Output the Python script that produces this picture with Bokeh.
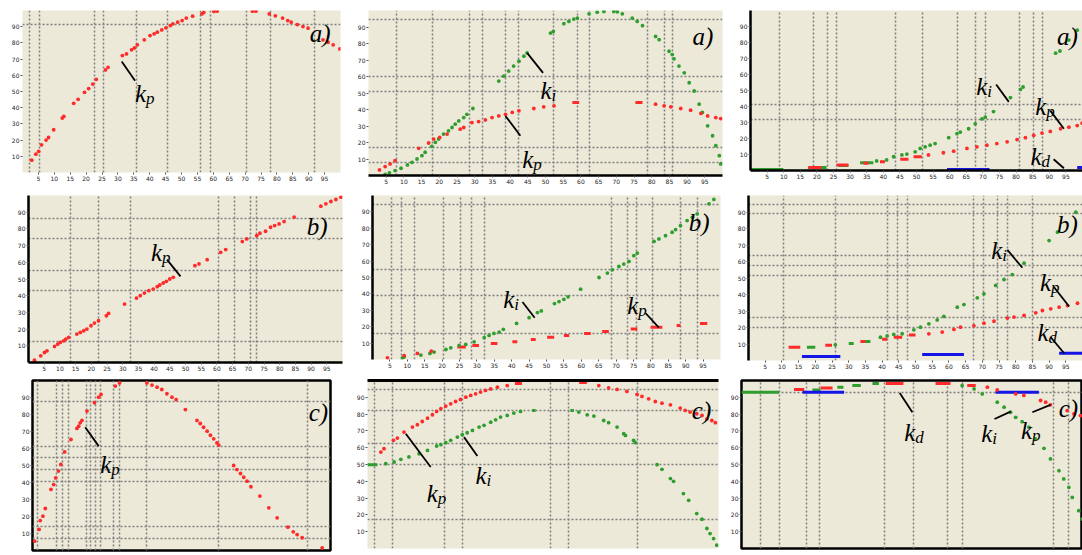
from bokeh.plotting import figure
from bokeh.layouts import row, column
from bokeh.models import FixedTicker, LinearAxis, Range1d
from bokeh.core.properties import value
from bokeh.embed import file_html
from bokeh.resources import INLINE

BG = "#ece9d8"
RED = "#ff2a2a"
GREEN = "#2f9e2f"
BLUE = "#1414e6"
SERIF = "Liberation Serif"

X_AXIS_TICKS = [5, 10, 15, 20, 25, 30, 35, 40, 45, 50, 55, 60, 65, 70, 75, 80, 85, 90, 95]
Y_AXIS_TICKS = [10, 20, 30, 40, 50, 60, 70, 80, 90]

# ---------------- panel 1 (row 1, col 1) ----------------
P1_GRID_X = [2.1, 5.5, 22.5, 25.6, 35.7, 45.7, 55.9, 59.1, 70.4, 77.9, 91.7]
P1_GRID_Y = [91.3]
P1_KP_X = [2.9, 4.2, 5.1, 6.0, 7.4, 8.2, 9.8, 12.5, 13.0, 16.1, 17.5, 19.5, 20.8, 22.1, 23.2,
           26.1, 26.9, 31.4, 32.7, 34.3, 35.2, 36.1, 38.3, 40.1, 41.4, 42.4, 43.8, 45.1, 46.5, 47.3,
           48.8, 50.2, 51.5, 53.5, 56.4, 57.0, 60.2, 61.2, 72.3, 73.4, 77.6, 79.5, 81.8, 83.4, 84.5,
           86.4, 88.2, 89.8, 94.5, 96.1, 97.7, 99.8]
P1_KP_Y = [7.6, 11.3, 13.0, 17.1, 20.0, 21.6, 26.4, 33.6, 34.6, 42.7, 45.2, 49.5, 51.8, 54.6, 57.5,
           63.3, 64.9, 72.2, 73.2, 75.7, 76.9, 78.8, 81.9, 84.5, 85.6, 86.6, 88.0, 89.3, 90.7, 91.8,
           92.8, 93.8, 95.3, 96.5, 97.9, 98.8, 99.4, 99.6, 99.6, 99.6, 97.9, 96.7, 95.3, 93.8, 92.8,
           91.3, 90.1, 89.1, 81.9, 80.4, 78.8, 76.3]

# ---------------- panel 2 (row 1, col 2) ----------------
P2_GRID_X = [8.0, 18.2, 28.6, 32.1, 38.7, 42.5, 52.4, 59.0, 62.5, 78.8, 83.5, 85.8]
P2_GRID_Y = [94.4, 59.8, 51.2, 16.7, 8.0]
P2_KI_X = [4.7, 5.9, 7.5, 9.2, 11.0, 12.3, 13.7, 15.1, 16.0, 17.9, 18.9, 19.8, 21.2, 22.6, 23.6,
           24.5, 25.5, 26.9, 27.8, 29.5, 36.8, 38.2, 39.6, 41.0, 42.5, 43.9, 44.8, 51.4, 52.2, 55.2,
           56.6, 58.0, 59.0, 62.3, 64.6, 66.5, 69.3, 70.3, 71.7, 74.5, 75.9, 77.4, 81.1, 82.1, 84.9,
           85.8, 86.3, 87.7, 89.2, 90.6, 92.0, 93.4, 94.3, 95.8, 97.2, 98.1, 99.1, 99.5]
P2_KI_Y = [0.6, 1.6, 3.0, 4.4, 6.4, 8.0, 10.0, 12.0, 14.1, 17.7, 20.1, 22.1, 25.1, 27.1, 29.1,
           31.1, 33.1, 35.1, 37.1, 40.6, 57.2, 60.2, 63.3, 66.3, 69.3, 72.3, 74.3, 86.3, 87.3, 92.0,
           93.4, 94.8, 95.4, 98.0, 99.0, 99.4, 99.4, 99.2, 98.0, 95.4, 93.4, 90.8, 84.3, 82.3, 75.3,
           73.3, 70.7, 66.3, 62.2, 56.2, 51.2, 43.2, 38.2, 30.1, 24.1, 18.1, 12.0, 7.0]
P2_KP_X = [3.1, 4.7, 6.1, 7.5, 14.2, 17.0, 18.4, 20.1, 22.2, 25.9, 26.9, 29.2, 31.1, 33.0, 34.9,
           36.8, 38.7, 40.6, 42.5, 46.7, 49.5, 52.4, 81.1, 83.5, 85.4, 88.2, 91.0, 93.9, 95.8, 98.1, 99.5]
P2_KP_Y = [3.4, 5.4, 7.0, 9.0, 16.5, 19.7, 22.1, 23.1, 25.1, 28.1, 29.1, 32.1, 32.7, 33.7, 35.1,
           36.1, 37.1, 38.2, 39.2, 40.6, 41.6, 42.2, 43.2, 42.2, 41.6, 40.6, 39.6, 37.6, 36.1, 35.1, 34.5]
P2_KP_DASH_X0 = [57.6, 75.4]
P2_KP_DASH_X1 = [59.5, 77.4]
P2_KP_DASH_Y = [44.2, 44.2]

# ---------------- panel 3 (row 1, col 3) ----------------
P3_GRID_X = [8.7, 18.9, 23.1, 25.9, 43.6, 51.9, 62.4, 67.7, 70.7, 81.0, 85.3, 88.1]
P3_GRID_Y = [41.5, 31.8]
P3_KI_DASH_X0 = [0.0, 17.4, 26.5, 33.0]
P3_KI_DASH_X1 = [9.9, 22.9, 29.5, 37.0]
P3_KI_DASH_Y = [0.6, 1.8, 3.1, 4.9]
P3_KI_X = [38.0, 41.0, 43.1, 45.6, 47.1, 49.6, 51.1, 52.6, 54.1, 55.6, 59.7, 62.2, 63.2, 65.7, 67.7,
           69.7, 70.7, 73.2, 78.3, 81.3, 82.1, 91.9, 93.2, 95.9, 98.4]
P3_KI_Y = [6.0, 6.6, 8.6, 9.7, 10.3, 11.7, 13.8, 14.8, 15.8, 16.8, 20.5, 23.0, 24.0, 26.1, 29.2,
           32.2, 33.3, 36.8, 45.6, 50.7, 52.2, 73.3, 74.7, 81.5, 87.7]
P3_KP_DASH_X0 = [17.4, 26.0, 34.0, 39.0, 45.1, 49.1]
P3_KP_DASH_X1 = [21.4, 29.5, 35.5, 40.5, 47.6, 51.6]
P3_KP_DASH_Y = [1.8, 3.5, 4.5, 5.5, 7.0, 8.6]
P3_KP_X = [53.6, 58.1, 61.2, 65.2, 68.2, 71.2, 74.2, 77.3, 80.3, 82.8, 85.3, 87.8, 90.3, 93.4, 95.9, 98.4, 99.9]
P3_KP_Y = [9.7, 11.1, 12.1, 13.8, 14.8, 15.8, 16.8, 17.9, 19.3, 20.5, 22.0, 23.4, 24.4, 26.1, 27.1, 28.1, 29.6]
P3_KD_DASH_X0 = [59.2, 98.4]
P3_KD_DASH_X1 = [72.0, 100.0]
P3_KD_DASH_Y = [0.6, 1.8]

# ---------------- panel 4 (row 2, col 1) ----------------
P4_GRID_X = [13.5, 22.3, 32.4, 60.6, 65.7, 70.7, 72.7]
P4_GRID_Y = [86.0, 74.0, 55.0, 43.0, 12.4]
P4_KP_X = [1.9, 3.9, 5.1, 5.9, 8.3, 9.3, 10.1, 11.2, 11.9, 12.8, 15.4, 16.5, 17.6, 18.6, 19.9,
           21.0, 22.3, 24.8, 25.5, 30.6, 34.4, 35.6, 36.9, 38.3, 39.7, 41.0, 41.8, 42.9, 43.9, 45.0,
           46.1, 53.0, 54.3, 56.9, 61.2, 62.8, 68.1, 69.5, 72.7, 73.7, 75.5, 77.1, 78.4, 79.8, 81.4,
           84.6, 93.1, 94.7, 96.3, 97.9, 99.5]
P4_KP_Y = [1.4, 4.0, 6.0, 7.0, 9.6, 11.0, 12.0, 13.0, 14.0, 15.0, 17.0, 18.0, 19.0, 20.0, 22.0,
           23.6, 25.0, 28.0, 29.4, 35.0, 38.6, 40.0, 41.6, 43.0, 44.0, 45.4, 46.4, 47.6, 48.6, 50.0,
           51.0, 58.0, 59.0, 61.6, 66.0, 67.6, 72.4, 74.0, 76.0, 77.4, 78.6, 81.0, 82.0, 83.0, 84.4,
           87.0, 93.6, 95.0, 96.4, 97.6, 99.0]

# ---------------- panel 5 (row 2, col 2) ----------------
P5_GRID_X = [5.5, 8.3, 12.2, 20.4, 25.4, 28.4, 32.3, 68.6, 73.2, 75.8, 80.4, 88.5, 93.5]
P5_GRID_Y = [94.3, 54.7, 39.2, 15.9]
P5_KI_X = [8.6, 9.1, 13.9, 16.5, 17.7, 21.1, 22.5, 24.9, 26.8, 29.2, 32.1, 33.5, 34.9, 36.4, 37.6,
           41.4, 45.0, 47.4, 48.5, 52.3, 53.6, 55.0, 56.2, 59.8, 65.1, 67.5, 68.9, 70.8, 72.2, 73.7,
           75.1, 76.1, 80.9, 82.3, 84.2, 86.1, 87.1, 88.5, 90.4, 91.9, 93.3, 96.7, 98.1]
P5_KI_Y = [1.0, 1.6, 2.7, 3.7, 4.5, 6.1, 7.1, 8.6, 9.2, 10.8, 13.3, 14.7, 15.9, 16.7, 18.4,
           22.0, 25.5, 28.6, 29.6, 34.1, 35.3, 36.7, 38.2, 42.9, 50.0, 52.7, 54.7, 56.7, 58.2, 59.8,
           63.3, 64.9, 72.0, 73.5, 75.5, 77.6, 79.2, 81.6, 84.7, 86.7, 88.8, 94.9, 97.6]
P5_KP_X = [4.3, 9.1, 12.9, 16.9]
P5_KP_Y = [1.0, 2.4, 3.7, 5.1]
P5_KP_DASH_X0 = [24.4, 28.7, 34.0, 40.2, 45.5, 50.2, 55.0, 60.8, 66.0, 74.2, 79.9, 87.4, 94.1]
P5_KP_DASH_X1 = [26.8, 30.6, 35.9, 41.6, 46.9, 52.2, 56.5, 62.7, 67.9, 76.1, 83.3, 88.5, 96.2]
P5_KP_DASH_Y = [7.6, 8.6, 9.8, 10.8, 12.2, 13.5, 14.7, 15.9, 17.1, 18.6, 19.6, 20.8, 22.0]

# ---------------- panel 6 (row 2, col 3) ----------------
P6_GRID_X = [10.5, 26.0, 41.5, 44.5, 47.5, 67.5, 70.5, 74.5, 77.5, 85.0]
P6_GRID_Y = [94.5, 88.9, 63.6, 57.6, 51.5, 26.3, 20.2]
P6_KI_DASH_X0 = [17.5, 30.0, 34.0]
P6_KI_DASH_X1 = [20.0, 31.5, 36.5]
P6_KI_DASH_Y = [8.1, 10.3, 11.5]
P6_KI_X = [26.0, 39.5, 41.5, 43.5, 46.0, 49.5, 51.5, 54.0, 56.5, 58.5, 62.5, 64.5, 68.5, 70.5, 74.0,
           76.5, 79.0, 82.5, 90.0, 92.5, 98.0]
P6_KI_Y = [9.5, 14.1, 14.9, 15.8, 16.2, 18.6, 20.2, 22.2, 24.6, 26.7, 32.3, 33.9, 38.0, 40.4, 45.5,
           49.1, 52.1, 59.0, 72.7, 77.8, 89.9]
P6_KP_DASH_X0 = [12.0, 23.0, 33.5, 40.0, 43.5, 48.0]
P6_KP_DASH_X1 = [15.5, 25.0, 35.0, 41.5, 46.0, 50.0]
P6_KP_DASH_Y = [8.1, 9.3, 11.5, 12.9, 14.1, 15.4]
P6_KP_X = [54.0, 58.0, 61.5, 63.5, 67.5, 70.5, 73.5, 77.5, 79.5, 82.5, 86.0, 88.0, 90.5, 93.0, 95.5, 98.5]
P6_KP_Y = [16.2, 17.2, 18.8, 20.2, 21.0, 22.6, 23.8, 25.7, 26.3, 27.3, 28.9, 30.3, 31.3, 32.3, 33.3, 34.7]
P6_KD_DASH_X0 = [16.0, 52.0, 93.0]
P6_KD_DASH_X1 = [27.5, 64.5, 100.0]
P6_KD_DASH_Y = [2.4, 3.6, 4.4]

# ---------------- panel 7 (row 3, col 1) ----------------
P7_GRID_X = [1.7, 8.0, 9.9, 12.1, 18.0, 19.6, 21.1, 22.7, 27.2, 29.2, 38.4, 62.5, 92.2]
P7_GRID_Y = [87.8, 61.4, 54.5, 47.6, 40.8, 14.3, 7.1]
P7_KP_X = [0.7, 2.2, 2.6, 3.5, 4.3, 6.2, 7.1, 7.8, 8.7, 9.5, 10.8, 12.9, 14.9, 15.5, 16.0,
           16.6, 18.3, 20.8, 22.2, 23.0, 27.8, 29.2, 38.4, 40.1, 41.8, 43.4, 45.1, 46.8, 48.2, 51.3,
           55.2, 56.3, 57.4, 58.6, 59.7, 60.8, 61.9, 62.5, 67.5, 68.6, 69.8, 70.9, 72.0, 73.3, 76.3,
           79.3, 82.1, 85.7, 87.5, 88.8, 90.5, 97.2]
P7_KP_Y = [5.5, 12.4, 17.6, 20.2, 24.7, 35.9, 38.8, 42.7, 46.7, 50.6, 58.0, 65.3, 71.8, 73.1, 75.1,
           76.5, 82.0, 86.9, 90.2, 91.8, 96.7, 98.6, 98.6, 97.3, 96.1, 94.7, 92.2, 90.2, 88.8, 82.9,
           76.5, 74.7, 72.5, 70.2, 67.8, 65.7, 63.3, 62.0, 50.0, 47.6, 45.3, 43.1, 40.8, 37.5, 32.0,
           25.1, 19.2, 13.7, 11.0, 9.4, 7.5, 1.6]

# ---------------- panel 8 (row 3, col 2) ----------------
P8_GRID_X = [2.1, 7.1, 22.0, 27.2, 52.1, 57.3, 77.0]
P8_GRID_Y = [94.7, 82.2, 62.4, 49.9, 17.4]
P8_KP_X = [3.8, 4.7, 7.4, 8.5, 10.4, 12.8, 14.2, 15.6, 17.1, 18.5, 19.7, 20.9, 22.3, 23.7, 25.1,
           26.5, 28.0, 29.4, 30.8, 32.2, 33.6, 35.1, 37.0, 39.8, 65.9, 68.7, 71.1, 73.9, 76.8, 78.2,
           80.1, 82.0, 83.9, 86.3, 89.1, 90.5, 91.9, 93.8, 95.3, 96.7, 98.1, 99.1]
P8_KP_Y = [57.4, 59.4, 64.4, 65.7, 69.3, 72.3, 73.7, 75.6, 77.6, 79.6, 81.6, 83.2, 84.8, 86.1, 87.5,
           88.7, 90.1, 91.1, 92.1, 93.1, 94.1, 95.0, 96.0, 97.0, 97.0, 95.6, 94.7, 93.5, 91.7, 90.5,
           89.1, 87.5, 86.5, 85.5, 83.6, 82.2, 81.2, 80.2, 79.2, 77.2, 76.2, 74.9]
P8_KP_DASH_X0 = [42.0, 60.3]
P8_KP_DASH_X1 = [44.0, 62.5]
P8_KP_DASH_Y = [98.2, 98.8]
P8_KI_DASH_X0 = [0.0, 46.9, 57.8]
P8_KI_DASH_X1 = [2.8, 47.9, 58.8]
P8_KI_DASH_Y = [49.9, 82.2, 82.2]
P8_KI_X = [5.2, 7.6, 9.5, 11.8, 14.7, 17.1, 19.7, 20.9, 22.3, 23.7, 25.6, 27.0, 28.4, 29.9, 31.8,
           33.2, 35.1, 36.5, 37.9, 39.8, 41.7, 43.6, 60.2, 62.6, 64.5, 67.3, 68.7, 71.1, 73.0, 73.5,
           75.8, 76.3, 82.5, 83.9, 86.3, 87.2, 90.0, 91.5, 93.8, 95.3, 96.7, 97.6, 98.6, 99.5]
P8_KI_Y = [50.5, 51.5, 53.1, 54.5, 56.4, 58.4, 61.0, 61.8, 63.0, 64.4, 66.3, 67.7, 68.9, 70.3, 72.3,
           73.3, 75.2, 76.6, 78.2, 79.2, 80.6, 81.6, 81.2, 79.6, 78.8, 76.2, 74.9, 72.3, 68.3, 67.3,
           64.4, 63.0, 49.9, 47.1, 41.6, 40.0, 32.7, 28.7, 20.8, 17.4, 11.9, 8.9, 5.9, 2.0]

# ---------------- panel 9 (row 3, col 3) ----------------
P9_GRID_X = [5.7, 11.0, 19.1, 23.0, 41.8, 50.4, 60.4, 64.7, 91.6, 96.0]
P9_GRID_Y = [93.0]
P9_KI_DASH_X0 = [0.0, 20.8, 28.1, 32.5, 38.4]
P9_KI_DASH_X1 = [11.0, 23.2, 29.9, 35.0, 40.3]
P9_KI_DASH_Y = [93.0, 94.4, 96.0, 97.0, 98.2]
P9_KI_X = [64.7, 68.2, 70.6, 75.0, 77.0, 78.9, 80.4, 82.3, 84.3, 86.2, 88.7, 90.6, 93.1, 94.5, 96.0,
           97.0, 98.9, 99.9]
P9_KI_Y = [97.0, 95.0, 92.0, 87.1, 84.1, 81.1, 78.1, 75.5, 72.2, 65.2, 59.6, 53.3, 46.3, 41.4, 36.4,
           30.4, 22.5, 17.5]
P9_KP_DASH_X0 = [15.4, 23.2, 42.3, 56.9, 66.2]
P9_KP_DASH_X1 = [18.4, 26.7, 47.5, 61.3, 68.7]
P9_KP_DASH_Y = [94.6, 95.6, 98.2, 98.2, 97.0]
P9_KP_X = [72.1, 75.0, 80.4, 82.8, 87.7, 89.2, 90.6, 95.5, 97.5, 99.4]
P9_KP_Y = [96.0, 94.4, 92.0, 91.1, 88.1, 87.1, 85.5, 82.1, 80.1, 79.1]
P9_KD_DASH_X0 = [17.9, 74.5]
P9_KD_DASH_X1 = [30.1, 87.2]
P9_KD_DASH_Y = [93.0, 93.0]

PANELS = [
    dict(fw=318, fh=162, bl=22, br=8, bt=10, bb=12, gx=P1_GRID_X, gy=P1_GRID_Y,
         dots=[(P1_KP_X, P1_KP_Y, RED)], dashes=[],
         labels=[("a)", "", 90.3, 86.0), ("k", "p", 35.4, 48.5)],
         leaders=[(31.2, 68.5, 35.4, 56.7)], lines=dict()),
    dict(fw=354, fh=165, bl=20, br=1, bt=8, bb=11, gx=P2_GRID_X, gy=P2_GRID_Y,
         dots=[(P2_KI_X, P2_KI_Y, GREEN), (P2_KP_X, P2_KP_Y, RED)],
         dashes=[(P2_KP_DASH_X0, P2_KP_DASH_X1, P2_KP_DASH_Y, RED)],
         labels=[("a)", "", 91.5, 84.3), ("k", "i", 48.6, 51.8), ("k", "p", 43.4, 10.0)],
         leaders=[(44.8, 74.3, 49.3, 62.2), (38.7, 36.1, 42.9, 24.1)], lines=dict(bottom=True)),
    dict(fw=332, fh=160, bl=27, br=0, bt=10, bb=14, gx=P3_GRID_X, gy=P3_GRID_Y,
         dots=[(P3_KI_X, P3_KI_Y, GREEN), (P3_KP_X, P3_KP_Y, RED)],
         dashes=[(P3_KI_DASH_X0, P3_KI_DASH_X1, P3_KI_DASH_Y, GREEN),
                 (P3_KP_DASH_X0, P3_KP_DASH_X1, P3_KP_DASH_Y, RED),
                 (P3_KD_DASH_X0, P3_KD_DASH_X1, P3_KD_DASH_Y, BLUE)],
         labels=[("a)", "", 92.3, 83.6), ("k", "i", 68.0, 52.2), ("k", "p", 85.8, 39.8), ("k", "d", 84.3, 8.6)],
         leaders=[(74.0, 53.8, 77.8, 42.9), (90.3, 37.4, 94.4, 26.1), (91.3, 7.0, 94.4, 1.4)],
         lines=dict(left=True, bottom=True)),
    dict(fw=314, fh=167, bl=28, br=6, bt=6, bb=15, gx=P4_GRID_X, gy=P4_GRID_Y,
         dots=[(P4_KP_X, P4_KP_Y, RED)], dashes=[],
         labels=[("b)", "", 88.6, 81.6), ("k", "p", 39.0, 66.0)],
         leaders=[(44.1, 61.6, 48.4, 51.6)], lines=dict(left=True, bottom=True)),
    dict(fw=348, fh=164, bl=24, br=3, bt=9, bb=15, gx=P5_GRID_X, gy=P5_GRID_Y,
         dots=[(P5_KI_X, P5_KI_Y, GREEN), (P5_KP_X, P5_KP_Y, RED)],
         dashes=[(P5_KP_DASH_X0, P5_KP_DASH_X1, P5_KP_DASH_Y, RED)],
         labels=[("b)", "", 90.9, 83.3), ("k", "i", 37.6, 36.7), ("k", "p", 73.2, 33.1)],
         leaders=[(43.1, 35.1, 46.6, 25.5), (78.5, 28.2, 82.3, 19.4)], lines=dict(left=True)),
    dict(fw=334, fh=165, bl=25, br=0, bt=11, bb=12, gx=P6_GRID_X, gy=P6_GRID_Y,
         dots=[(P6_KI_X, P6_KI_Y, GREEN), (P6_KP_X, P6_KP_Y, RED)],
         dashes=[(P6_KI_DASH_X0, P6_KI_DASH_X1, P6_KI_DASH_Y, GREEN),
                 (P6_KP_DASH_X0, P6_KP_DASH_X1, P6_KP_DASH_Y, RED),
                 (P6_KD_DASH_X0, P6_KD_DASH_X1, P6_KD_DASH_Y, BLUE)],
         labels=[("b)", "", 92.4, 82.4), ("k", "i", 72.7, 66.7), ("k", "p", 87.3, 47.5), ("k", "d", 86.5, 17.2)],
         leaders=[(77.5, 67.1, 82.0, 56.2), (91.5, 44.4, 96.0, 32.7), (90.5, 14.1, 94.5, 4.4)],
         lines=dict(left=True)),
    dict(fw=298, fh=170, bl=32, br=18, bt=6, bb=7, gx=P7_GRID_X, gy=P7_GRID_Y,
         dots=[(P7_KP_X, P7_KP_Y, RED)], dashes=[],
         labels=[("c)", "", 92.7, 81.0), ("k", "p", 22.7, 50.6)],
         leaders=[(17.7, 72.5, 22.2, 61.4)], lines=dict(outline=True, nox=True)),
    dict(fw=351, fh=168, bl=19, br=5, bt=8, bb=7, gx=P8_GRID_X, gy=P8_GRID_Y,
         dots=[(P8_KI_X, P8_KI_Y, GREEN), (P8_KP_X, P8_KP_Y, RED)],
         dashes=[(P8_KI_DASH_X0, P8_KI_DASH_X1, P8_KI_DASH_Y, GREEN),
                 (P8_KP_DASH_X0, P8_KP_DASH_X1, P8_KP_DASH_Y, RED)],
         labels=[("c)", "", 92.4, 82.2), ("k", "p", 16.9, 32.7), ("k", "i", 30.8, 43.6)],
         leaders=[(10.9, 68.3, 18.0, 48.5), (27.5, 66.3, 31.3, 55.0)], lines=dict(top=True, nox=True)),
    dict(fw=341, fh=168, bl=18, br=0, bt=5, bb=10, gx=P9_GRID_X, gy=P9_GRID_Y,
         dots=[(P9_KI_X, P9_KI_Y, GREEN), (P9_KP_X, P9_KP_Y, RED)],
         dashes=[(P9_KI_DASH_X0, P9_KI_DASH_X1, P9_KI_DASH_Y, GREEN),
                 (P9_KP_DASH_X0, P9_KP_DASH_X1, P9_KP_DASH_Y, RED),
                 (P9_KD_DASH_X0, P9_KD_DASH_X1, P9_KD_DASH_Y, BLUE)],
         labels=[("c)", "", 93.0, 83.5), ("k", "d", 47.7, 69.2), ("k", "i", 70.3, 68.2), ("k", "p", 82.0, 70.2)],
         leaders=[(46.4, 92.6, 50.1, 81.1), (74.2, 77.1, 78.9, 81.5), (85.3, 81.1, 90.6, 85.5)],
         lines=dict(outline=True, nox=True)),
]


def make_panel(c):
    p = figure(frame_width=c["fw"], frame_height=c["fh"], x_range=Range1d(0, 100),
               y_range=Range1d(0, 100), output_backend="svg", toolbar_location=None, title=None,
               min_border_left=c["bl"], min_border_right=c["br"], min_border_top=c["bt"],
               min_border_bottom=c["bb"])
    p.background_fill_color = BG
    p.border_fill_color = "white"
    lines = c["lines"]
    if lines.get("outline"):
        p.outline_line_color = "black"
        p.outline_line_width = 2.5
    else:
        p.outline_line_color = None

    xa = p.xaxis[0]
    ya = p.yaxis[0]
    xa.ticker = FixedTicker(ticks=X_AXIS_TICKS)
    ya.ticker = FixedTicker(ticks=Y_AXIS_TICKS)
    for ax in (xa, ya):
        ax.major_label_text_font_size = "6px"
        ax.major_label_text_color = "#222222"
        ax.major_label_text_font = "DejaVu Sans"
        ax.major_tick_out = 2
        ax.major_tick_in = 0
        ax.major_tick_line_color = "#555555"
        ax.minor_tick_line_color = None
        ax.major_label_standoff = 1
        ax.axis_line_color = None
    if lines.get("left"):
        ya.axis_line_color = "black"
        ya.axis_line_width = 2.5
    if lines.get("bottom"):
        xa.axis_line_color = "black"
        xa.axis_line_width = 2.5
    if lines.get("nox"):
        xa.visible = False
    if lines.get("top"):
        top = LinearAxis(ticker=FixedTicker(ticks=[]), axis_line_color="black", axis_line_width=3,
                         major_tick_line_color=None, minor_tick_line_color=None)
        p.add_layout(top, "above")

    p.xgrid.ticker = FixedTicker(ticks=c["gx"])
    p.ygrid.ticker = FixedTicker(ticks=c["gy"])
    p.grid.grid_line_color = "#7f7f7f"
    p.grid.grid_line_dash = "2 2"
    p.grid.grid_line_width = 1.5

    for (x0, x1, y, col) in c["dashes"]:
        p.segment(x0=x0, y0=y, x1=x1, y1=y, line_color=col, line_width=3)
    for (x, y, col) in c["dots"]:
        assert len(x) == len(y)
        p.scatter(x=x, y=y, size=3.8, fill_color=col, line_color=None)

    if c["leaders"]:
        p.segment(x0=[l[0] for l in c["leaders"]], y0=[l[1] for l in c["leaders"]],
                  x1=[l[2] for l in c["leaders"]], y1=[l[3] for l in c["leaders"]],
                  line_color="black", line_width=1.8)
    for (main, sub, x, y) in c["labels"]:
        p.text(x=[x], y=[y], text=[main], text_font=value(SERIF), text_font_style="italic",
               text_font_size="25px", text_color="black", text_baseline="alphabetic", text_align="left")
        if sub:
            p.text(x=[x], y=[y], text=[sub], x_offset=11, y_offset=5, text_font=value(SERIF),
                   text_font_style="italic", text_font_size="17px", text_color="black",
                   text_baseline="alphabetic", text_align="left")
    return p


figs = [make_panel(c) for c in PANELS]
layout = column(row(figs[0], figs[1], figs[2]),
                row(figs[3], figs[4], figs[5]),
                row(figs[6], figs[7], figs[8]))

open("out.html", "w").write(file_html(layout, INLINE))
